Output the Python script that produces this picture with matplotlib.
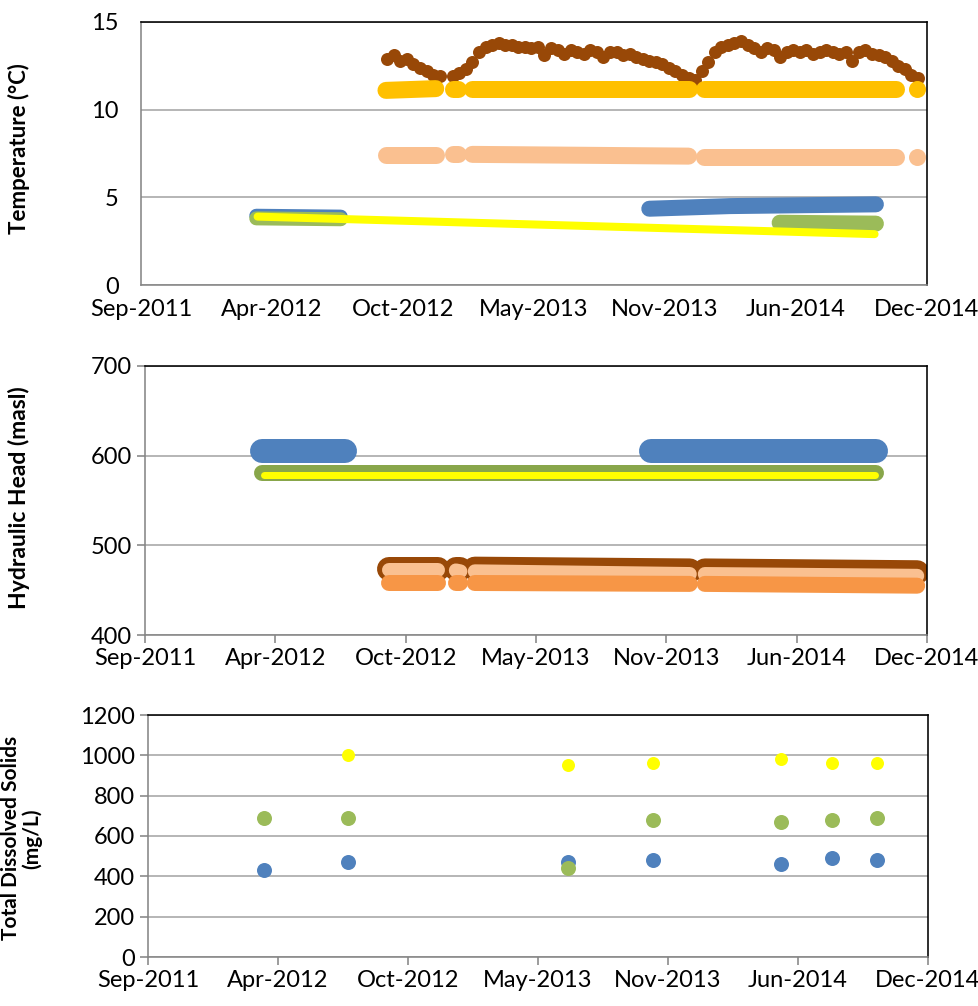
import pandas as pd
import matplotlib
matplotlib.use("Agg")
import matplotlib.pyplot as plt
import matplotlib.dates as mdates

plt.rcParams["font.family"] = ["Lato", "DejaVu Sans"]

# -------------------------
# Data
# -------------------------
# continuous logger records (start / end of each run)
seg_start = ["2012-09-22", "2013-01-03", "2013-02-01", "2014-01-20"]
seg_end = ["2012-12-07", "2013-01-10", "2013-12-28", "2014-11-10"]
last_reading = "2014-12-12"

# temperature (deg C)
brown_temp_start = "2012-09-24"  # readings every 10 days
brown_temp = [12.9, 13.1, 12.8, 12.9, 12.6, 12.4, 12.2, 12.0, 11.9, None,
              11.9, 12.1, 12.3, 12.7, 13.3, 13.6, 13.7, 13.8, 13.7, 13.7,
              13.6, 13.6, 13.5, 13.6, 13.1, 13.5, 13.4, 13.2, 13.4, 13.3,
              13.2, 13.4, 13.3, 13.0, 13.3, 13.3, 13.1, 13.2, 13.0, 12.9,
              12.8, 12.7, 12.6, 12.4, 12.2, 12.0, 11.8, 11.7, 12.2, 12.7,
              13.3, 13.6, 13.7, 13.8, 13.9, 13.7, 13.5, 13.3, 13.5, 13.4,
              13.0, 13.3, 13.4, 13.3, 13.4, 13.2, 13.3, 13.4, 13.3, 13.2,
              13.3, 12.8, 13.3, 13.4, 13.2, 13.1, 13.0, 12.8, 12.5, 12.3,
              12.0, 11.8]
gold_temp_start = [11.1, 11.2, 11.2, 11.2]
gold_temp_end = [11.2, 11.2, 11.2, 11.2]
gold_temp_last = 11.2
peach_temp_start = [7.4, 7.45, 7.45, 7.3]
peach_temp_end = [7.4, 7.45, 7.35, 7.3]
peach_temp_last = 7.3

early_dates = ["2012-03-08", "2012-07-15"]
blue_temp_early = [3.95, 3.9]
green_temp_early = [3.8, 3.75]
blue_temp_late_dates = ["2013-10-29", "2014-03-01", "2014-10-10"]
blue_temp_late = [4.35, 4.5, 4.6]
green_temp_late_dates = ["2014-05-16", "2014-10-10"]
green_temp_late = [3.55, 3.5]
yellow_temp_dates = ["2012-03-10", "2014-10-08"]
yellow_temp = [3.9, 2.9]

# hydraulic head (masl)
blue_head_early_dates = ["2012-03-12", "2012-07-17"]
blue_head_late_dates = ["2013-10-30", "2014-10-10"]
blue_head = [605, 605]
green_head_dates = ["2012-03-12", "2014-10-10"]
green_head = [581, 581]
yellow_head_dates = ["2012-03-14", "2014-10-08"]
yellow_head = [578, 578]
head_seg_end = ["2012-12-07", "2013-01-10", "2013-12-28", "2014-12-12"]
brown_head_start = [474, 474, 474, 472]
brown_head_end = [474, 474, 472, 470]
peach_head_start = [472, 472, 471, 468]
peach_head_end = [472, 471, 468, 466]
orange_head_start = [458, 458, 458, 457]
orange_head_end = [458, 458, 457, 455]

# total dissolved solids (mg/L)
tds_dates = ["2012-03-11", "2012-07-17", "2013-06-21", "2013-10-30",
             "2014-05-15", "2014-08-01", "2014-10-09"]
tds_blue = [430, 470, 470, 480, 460, 490, 480]
tds_green = [690, 690, 440, 680, 670, 680, 690]
tds_yellow = [None, 1000, 950, 960, 980, 960, 960]

# axis ticks (Excel date axis, major unit 200 days)
x_ticks = pd.date_range("2011-09-14", periods=7, freq="200D")

BLUE = "#4F81BD"
GREEN = "#9BBB59"
GREEN_DK = "#88A64A"
YELLOW = "#FFFF00"
GOLD = "#FFC000"
PEACH = "#FAC090"
ORANGE = "#F79646"
BROWN = "#984807"


def px(n):
    return n * 72 / 100


def thick(ax, d, v, color, w):
    ax.plot(pd.to_datetime(d), v, color=color, lw=px(w),
            solid_capstyle="round", solid_joinstyle="round")


def dot(ax, d, v, color, w):
    ax.plot(pd.to_datetime([d]), [v], "o", color=color, ms=px(w), mec="none")


def style(ax, ylim, yticks, yticks_marks=True, xticks_marks=True):
    ax.set_xlim(x_ticks[0], x_ticks[-1])
    ax.set_ylim(*ylim)
    ax.set_yticks(yticks)
    ax.set_xticks(x_ticks)
    ax.xaxis.set_major_formatter(mdates.DateFormatter("%b-%Y"))
    ax.grid(axis="y", color="#A6A6A6", lw=px(1.6))
    ax.set_axisbelow(True)
    for s in ["left", "bottom"]:
        ax.spines[s].set_color("#868686")
        ax.spines[s].set_linewidth(px(1.6))
    for s in ["top", "right"]:
        ax.spines[s].set_color("black")
        ax.spines[s].set_linewidth(px(1.6))
    ax.tick_params(axis="both", labelsize=17, colors="#868686",
                   labelcolor="black", width=px(1.6), length=6)
    if not yticks_marks:
        ax.tick_params(axis="y", length=0, pad=16)
    if not xticks_marks:
        ax.tick_params(axis="x", length=0, pad=10)


fig = plt.figure(figsize=(9.79, 10.06), dpi=100)

# =========================
# Temperature
# =========================
ax1 = fig.add_axes([141 / 979, 1 - 285 / 1006, 786 / 979, 263 / 1006])
brown_dates = pd.date_range(brown_temp_start, periods=len(brown_temp), freq="10D")
ax1.plot(brown_dates, [float("nan") if v is None else v for v in brown_temp],
         "o", color=BROWN, ms=px(13), mec="none")
for s, e, a, b in zip(seg_start, seg_end, gold_temp_start, gold_temp_end):
    thick(ax1, [s, e], [a, b], GOLD, 17)
dot(ax1, last_reading, gold_temp_last, GOLD, 17)
for s, e, a, b in zip(seg_start, seg_end, peach_temp_start, peach_temp_end):
    thick(ax1, [s, e], [a, b], PEACH, 17)
dot(ax1, last_reading, peach_temp_last, PEACH, 17)
thick(ax1, early_dates, blue_temp_early, BLUE, 14)
thick(ax1, early_dates, green_temp_early, GREEN, 14)
thick(ax1, blue_temp_late_dates, blue_temp_late, BLUE, 16)
thick(ax1, green_temp_late_dates, green_temp_late, GREEN, 16)
thick(ax1, yellow_temp_dates, yellow_temp, YELLOW, 8)
style(ax1, (0, 15), [0, 5, 10, 15], yticks_marks=False, xticks_marks=False)
ax1.set_ylabel("Temperature (°C)", fontsize=16, fontweight="bold")
ax1.yaxis.set_label_coords(-0.141, 0.52)

# =========================
# Hydraulic head
# =========================
ax2 = fig.add_axes([145 / 979, 1 - 635 / 1006, 782 / 979, 269 / 1006])
thick(ax2, blue_head_early_dates, blue_head, BLUE, 24)
thick(ax2, blue_head_late_dates, blue_head, BLUE, 24)
thick(ax2, green_head_dates, green_head, GREEN_DK, 16)
thick(ax2, yellow_head_dates, yellow_head, YELLOW, 7)
for s, e, a, b in zip(seg_start, head_seg_end, brown_head_start, brown_head_end):
    thick(ax2, [s, e], [a, b], BROWN, 24)
for s, e, a, b in zip(seg_start, head_seg_end, peach_head_start, peach_head_end):
    thick(ax2, [s, e], [a, b], PEACH, 14)
for s, e, a, b in zip(seg_start, head_seg_end, orange_head_start, orange_head_end):
    thick(ax2, [s, e], [a, b], ORANGE, 16)
style(ax2, (400, 700), [400, 500, 600, 700])
ax2.set_ylabel("Hydraulic Head (masl)", fontsize=16.5, fontweight="bold")
ax2.yaxis.set_label_coords(-0.147, 0.51)

# =========================
# Total dissolved solids
# =========================
ax3 = fig.add_axes([148 / 979, 1 - 957 / 1006, 780 / 979, 242 / 1006])
d = pd.to_datetime(tds_dates)
ax3.plot(d, tds_blue, "o", color=BLUE, ms=px(15), mec="none")
ax3.plot(d, tds_green, "o", color=GREEN, ms=px(15), mec="none")
ax3.plot(d, [float("nan") if v is None else v for v in tds_yellow], "o",
         color=YELLOW, ms=px(13), mec="none")
style(ax3, (0, 1200), range(0, 1201, 200))
ax3.set_ylabel("Total Dissolved Solids\n(mg/L)", fontsize=15, fontweight="bold",
               linespacing=1.0)
ax3.yaxis.set_label_coords(-0.136, 0.49)

fig.savefig("out.png", dpi=100)
